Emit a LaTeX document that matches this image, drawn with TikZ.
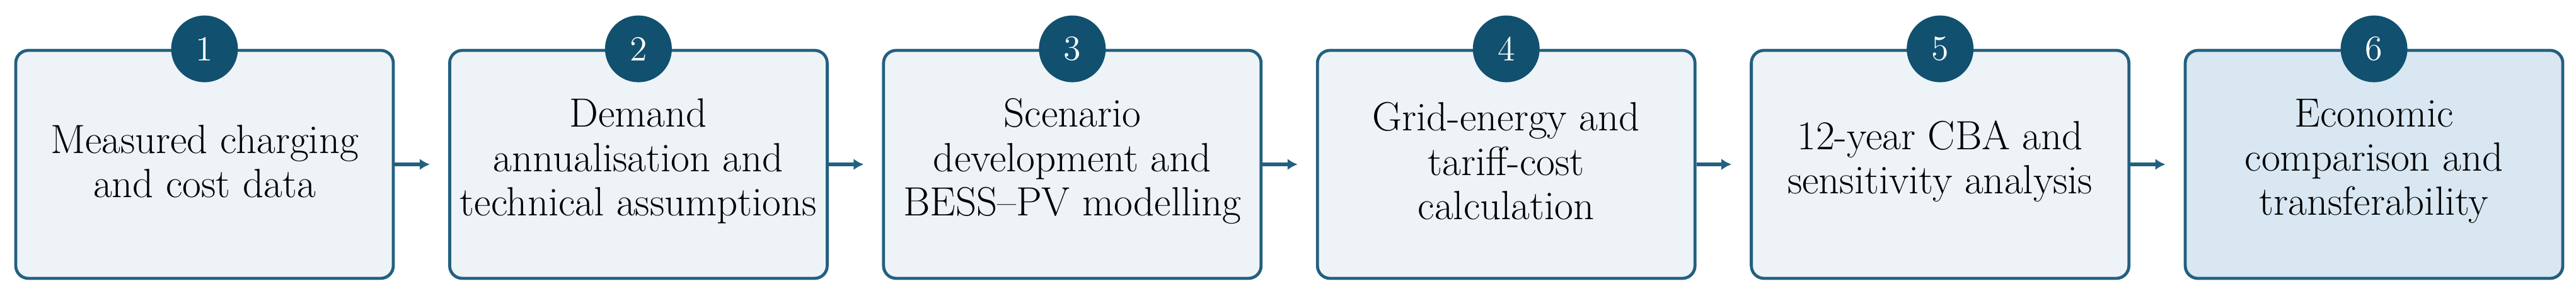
\documentclass[tikz,border=0pt]{standalone}
\usetikzlibrary{arrows.meta}

\definecolor{stepnavy}{HTML}{11506F}
\definecolor{stepedge}{HTML}{22607F}
\definecolor{stepfill}{HTML}{EEF3F7}
\definecolor{lastfill}{HTML}{D8E7F1}

\tikzset{
  stepbox/.style={draw=stepedge, line width=1.2pt, rounded corners=5pt,
    minimum width=149.75pt, minimum height=90.5pt, inner sep=0pt},
  steptext/.style={align=center, font=\fontsize{16.2}{17.6}\selectfont},
  badge/.style={circle, fill=stepnavy, text=white, minimum size=26.5pt,
    inner sep=0pt, font=\fontsize{14}{14}\selectfont},
  flow/.style={stepedge, line width=1.3pt, -{Latex[length=4pt,width=4.5pt]},
    shorten >=7.25pt}
}

\begin{document}
\begin{tikzpicture}
    \useasboundingbox (0,0) rectangle (1021.75pt,117.5pt);

    % the six steps
    \foreach \i/\fl/\txt in {
        1/stepfill/{Measured charging\\and cost data},
        2/stepfill/{Demand\\annualisation and\\technical assumptions},
        3/stepfill/{Scenario\\development and\\BESS--PV modelling},
        4/stepfill/{Grid-energy and\\tariff-cost\\calculation},
        5/stepfill/{12-year CBA and\\sensitivity analysis},
        6/lastfill/{Economic\\comparison and\\transferability}} {
        \node[stepbox, fill=\fl] (b\i) at ({81.125pt+172.1pt*(\i-1)},52.25pt) {};
        \node[steptext] (t\i) at ([yshift=1.25pt]b\i.center) {\txt};
        \node[badge] (n\i) at (b\i.north) {\i};
    }

    % arrows between steps
    \foreach \i [evaluate=\i as \j using int(\i+1)] in {1,...,5}
        \draw[flow] (b\i.east) -- (b\j.west);
\end{tikzpicture}
\end{document}
